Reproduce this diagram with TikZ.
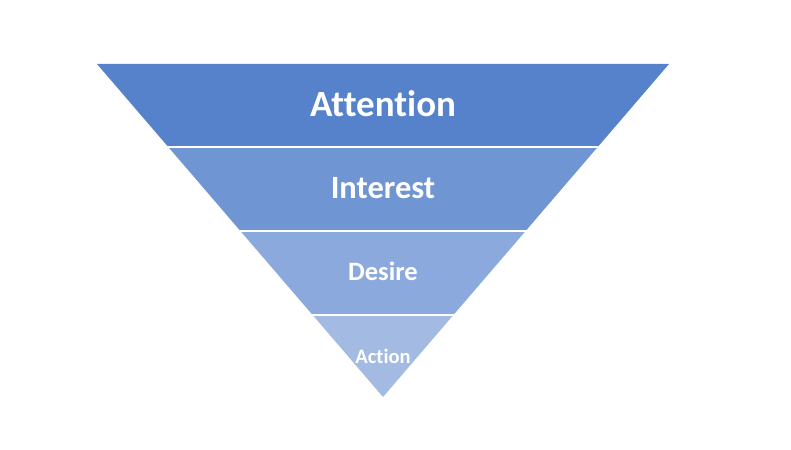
\documentclass[tikz,border=0pt]{standalone}
\usepackage{fontspec}
\setmainfont{Carlito}[Ligatures={NoCommon}]
\definecolor{bandA}{HTML}{5682CB}
\definecolor{bandB}{HTML}{7095D3}
\definecolor{bandC}{HTML}{8BA9DC}
\definecolor{bandD}{HTML}{A3BAE3}
\tikzset{
  sep/.style={draw=white, line width=2pt},
  lbl/.style={text=white, font=\bfseries, inner sep=0pt, anchor=center}
}
\begin{document}
\begin{tikzpicture}[x=1pt,y=-1pt]
\useasboundingbox (0,0) rectangle (791,449);
% apex (383,397), top y=64, half-width 286
\fill[bandA] (97,64) -- (669,64) -- (597.7,147) -- (168.3,147) -- cycle;
\fill[bandB] (168.3,147) -- (597.7,147) -- (525.6,231) -- (240.4,231) -- cycle;
\fill[bandC] (240.4,231) -- (525.6,231) -- (453.4,315) -- (312.6,315) -- cycle;
\fill[bandD] (312.6,315) -- (453.4,315) -- (383,397) -- cycle;
\draw[sep] (160,147) -- (606,147);
\draw[sep] (232,231) -- (534,231);
\draw[sep] (305,315) -- (461,315);
\node[lbl, font=\bfseries\fontsize{37}{44}\selectfont] (attention) at (383,104) {Attention};
\node[lbl, font=\bfseries\fontsize{32.5}{39}\selectfont] (interest) at (383,188) {Interest};
\node[lbl, font=\bfseries\fontsize{26.5}{32}\selectfont] (desire) at (383,271) {Desire};
\node[lbl, font=\bfseries\fontsize{20.5}{25}\selectfont] (action) at (383,356) {Action};
\end{tikzpicture}
\end{document}
